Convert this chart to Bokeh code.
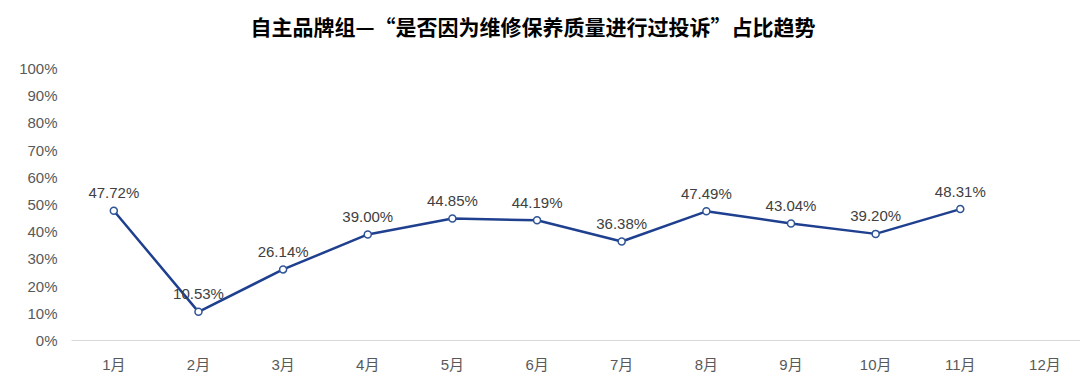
from bokeh.plotting import figure
from bokeh.models import Range1d, FixedTicker, NumeralTickFormatter, Title, ColumnDataSource
from bokeh.core.properties import value
from bokeh.embed import file_html
from bokeh.resources import INLINE

months = ["1月", "2月", "3月", "4月", "5月", "6月", "7月", "8月", "9月", "10月", "11月", "12月"]
values = [47.72, 10.53, 26.14, 39.00, 44.85, 44.19, 36.38, 47.49, 43.04, 39.20, 48.31]
title_text = "自主品牌组—“是否因为维修保养质量进行过投诉”占比趋势"
y_ticks = [0, 0.1, 0.2, 0.3, 0.4, 0.5, 0.6, 0.7, 0.8, 0.9, 1.0]

xs = list(range(1, len(values) + 1))
ys = [v / 100 for v in values]
labels = ["%.2f%%" % v for v in values]
src = ColumnDataSource(dict(x=xs, y=ys, label=labels))

FONT = "'Liberation Sans', 'Noto Sans CJK SC'"

# frame extends a little above 100% so the title sits in a compact header
p = figure(width=1080, height=388, output_backend="svg", toolbar_location=None,
           x_range=Range1d(0.5, 12.42), y_range=Range1d(0, 1.0846),
           min_border_left=71, min_border_right=0, min_border_top=45, min_border_bottom=48)
p.outline_line_color = None
p.xgrid.grid_line_color = None
p.ygrid.grid_line_color = None
p.background_fill_color = "white"
p.border_fill_color = "white"

t = Title(text=title_text, text_font="Noto Sans CJK SC", text_font_size="21px", text_font_style="bold",
          text_color="#000000", align="left", offset=179, standoff=10)
p.add_layout(t, "above")

p.xaxis.ticker = FixedTicker(ticks=list(range(1, 13)))
p.xaxis.major_label_overrides = {i + 1: m for i, m in enumerate(months)}
p.xaxis.axis_line_color = "#d9d9d9"
p.xaxis.axis_line_width = 1
p.xaxis.major_tick_line_color = None
p.xaxis.minor_tick_line_color = None
p.xaxis.major_label_standoff = 9
p.xaxis.major_label_text_font = FONT
p.xaxis.major_label_text_font_size = "15px"
p.xaxis.major_label_text_color = "#595959"

p.yaxis.ticker = FixedTicker(ticks=y_ticks)
p.yaxis.formatter = NumeralTickFormatter(format="0%")
p.yaxis.axis_line_color = None
p.yaxis.major_tick_line_color = None
p.yaxis.minor_tick_line_color = None
p.yaxis.major_label_standoff = 8
p.yaxis.major_label_text_font = FONT
p.yaxis.major_label_text_font_size = "15px"
p.yaxis.major_label_text_color = "#595959"

p.line("x", "y", source=src, line_color="#1F3F8F", line_width=2.5)
p.scatter("x", "y", source=src, size=7, fill_color="white", line_color="#2F5597", line_width=1.5)
p.text("x", "y", text="label", source=src, text_align="center", text_baseline="middle",
       y_offset=-18, text_font=value("Liberation Sans"), text_font_size="15px", text_color="#404040")

open("out.html", "w").write(file_html(p, INLINE))
